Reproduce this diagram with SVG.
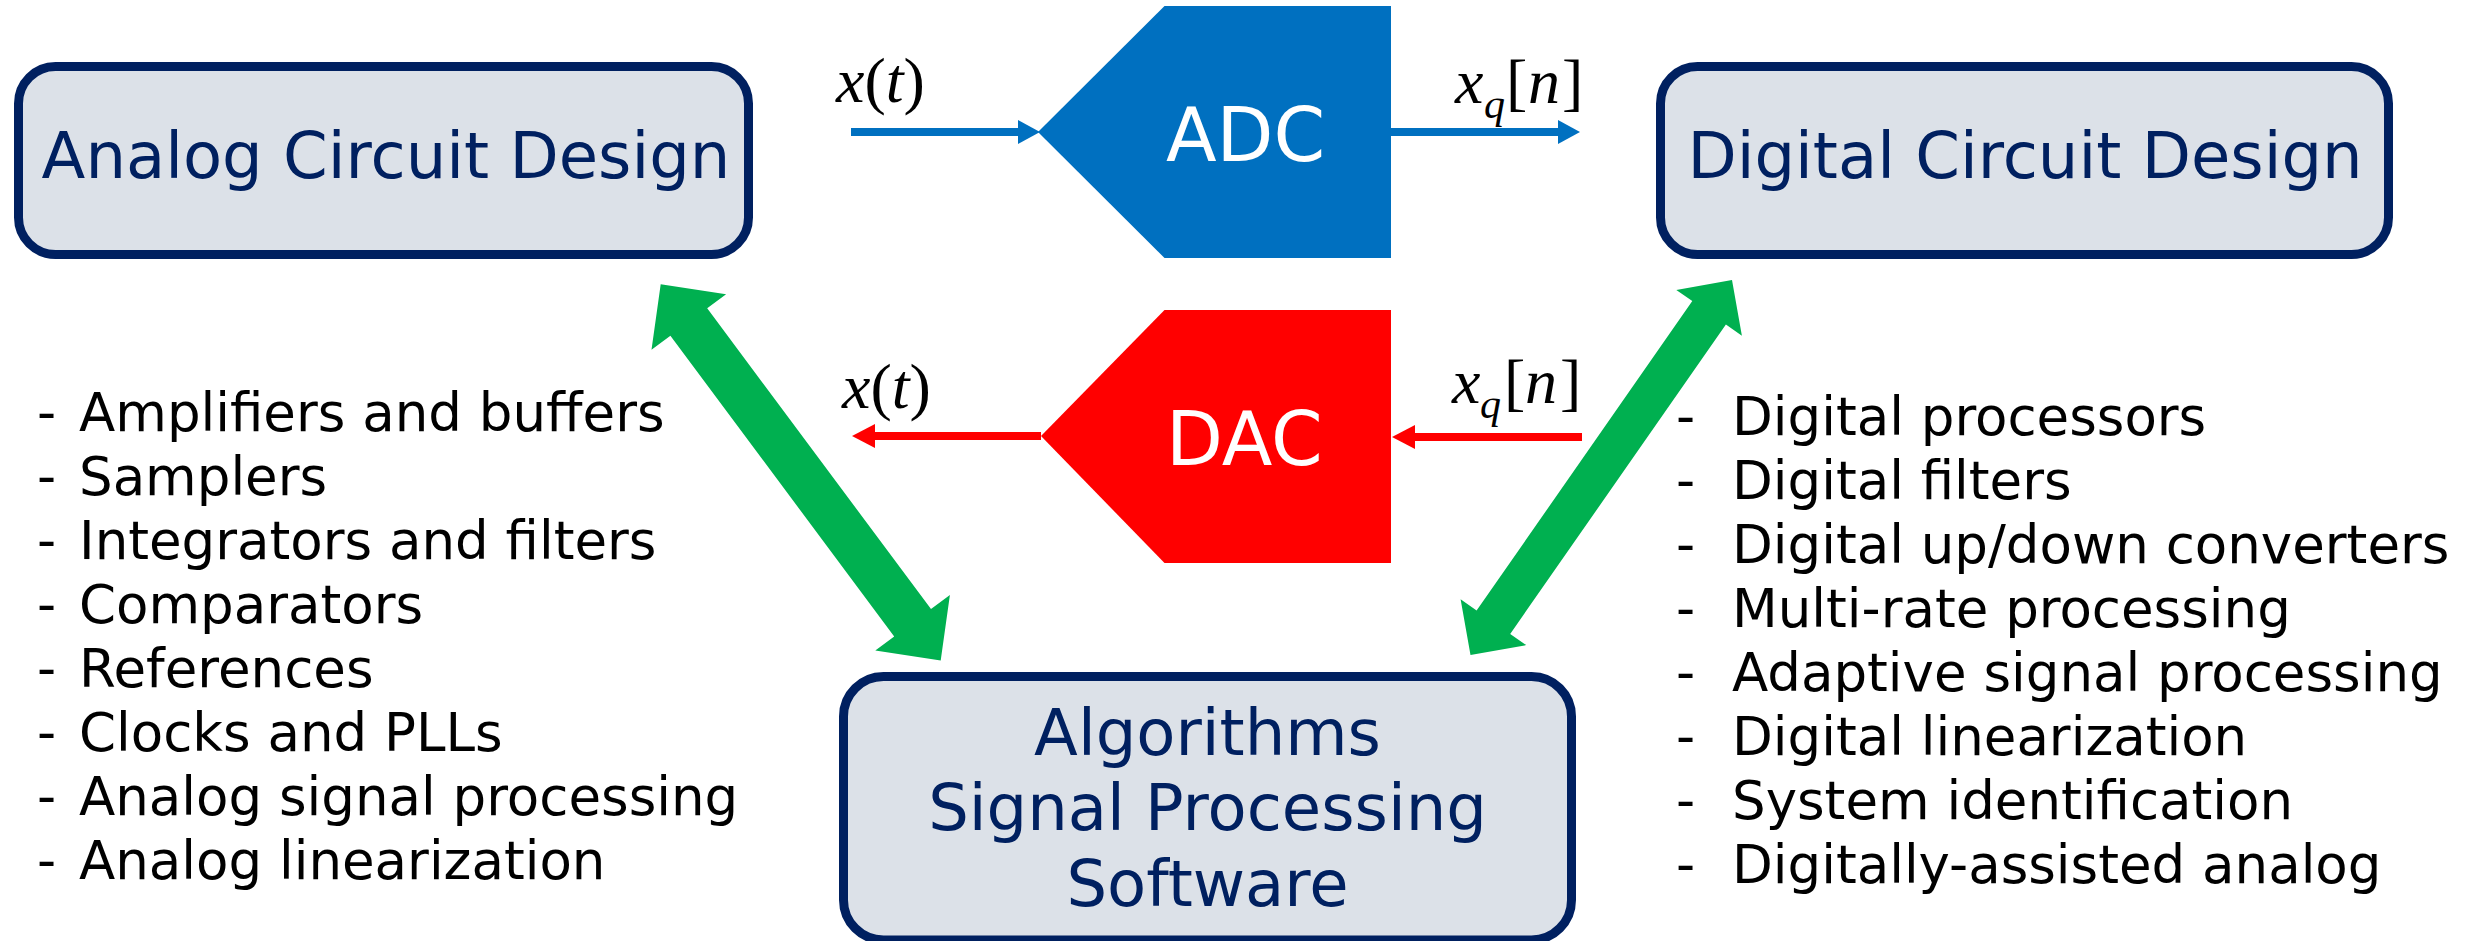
<svg xmlns="http://www.w3.org/2000/svg" width="2476" height="941" viewBox="0 0 2476 941">
  <style>
    .box { fill: #DCE1E8; stroke: #002060; stroke-width: 9; }
    .title { font-family: "DejaVu Sans", Verdana, sans-serif; font-size: 64px; fill: #002060; text-anchor: middle; }
    .conv { font-family: "DejaVu Sans", Verdana, sans-serif; font-size: 74px; fill: #FFFFFF; }
    .item { font-family: "DejaVu Sans", Verdana, sans-serif; font-size: 53px; fill: #000000; }
    .math { font-family: "Liberation Serif", "Times New Roman", serif; font-size: 64px; fill: #000000; }
    .it { font-style: italic; }
    .sub { font-size: 42px; font-style: italic; }
    .sig-blue { stroke: #0070C0; stroke-width: 8; fill: none; }
    .sig-red { stroke: #FF0000; stroke-width: 8; fill: none; }
    .link { fill: #00B050; }
  </style>
  <defs>
    <marker id="head-blue" markerUnits="userSpaceOnUse" markerWidth="22" markerHeight="24" viewBox="0 0 22 24" refX="0" refY="12" orient="auto">
      <path d="M0,0 L22,12 L0,24 Z" fill="#0070C0"/>
    </marker>
    <marker id="head-red" markerUnits="userSpaceOnUse" markerWidth="23" markerHeight="24" viewBox="0 0 23 24" refX="0" refY="12" orient="auto">
      <path d="M0,0 L23,12 L0,24 Z" fill="#FF0000"/>
    </marker>
  </defs>

  <rect width="2476" height="941" fill="#FFFFFF"/>

  <!-- Design domains -->
  <g id="analog-design">
    <rect class="box" x="18.5" y="66.5" width="730" height="188" rx="37" ry="37"/>
    <text class="title" x="386" y="178">Analog Circuit Design</text>
  </g>

  <g id="digital-design">
    <rect class="box" x="1660.5" y="66.5" width="728" height="188" rx="37" ry="37"/>
    <text class="title" x="2025" y="178">Digital Circuit Design</text>
  </g>

  <g id="algorithms">
    <rect class="box" x="843.5" y="676.5" width="728" height="263.5" rx="40" ry="40"/>
    <text class="title" x="1207.5" y="755">Algorithms</text>
    <text class="title" x="1207.5" y="830">Signal Processing</text>
    <text class="title" x="1207.5" y="906">Software</text>
  </g>

  <!-- Converters -->
  <g id="adc">
    <polygon points="1038,132 1164.5,6 1391,6 1391,258 1164.5,258" fill="#0070C0"/>
    <text class="conv" x="1166" y="161">ADC</text>
  </g>

  <g id="dac">
    <polygon points="1041,436 1164.5,310 1391,310 1391,563 1164.5,563" fill="#FF0000"/>
    <text class="conv" x="1166" y="465">DAC</text>
  </g>

  <!-- Signal labels -->
  <g id="signal-labels">
    <text class="math" x="836" y="102"><tspan class="it">x</tspan>(<tspan class="it">t</tspan>)</text>
    <text class="math" y="103"><tspan class="it" x="1455">x</tspan><tspan class="sub" x="1484" y="118">q</tspan><tspan x="1506" y="103">[</tspan><tspan class="it" x="1528">n</tspan><tspan x="1562">]</tspan></text>
    <text class="math" x="842" y="408"><tspan class="it">x</tspan>(<tspan class="it">t</tspan>)</text>
    <text class="math" y="403"><tspan class="it" x="1452">x</tspan><tspan class="sub" x="1480" y="418">q</tspan><tspan x="1504" y="403">[</tspan><tspan class="it" x="1525">n</tspan><tspan x="1560">]</tspan></text>
  </g>

  <!-- Connectors -->
  <g id="connectors">
    <line class="sig-blue" x1="851" y1="132" x2="1018" y2="132" marker-end="url(#head-blue)"/>
    <line class="sig-blue" x1="1391" y1="132" x2="1558" y2="132" marker-end="url(#head-blue)"/>
    <line class="sig-red" x1="1582" y1="437" x2="1415" y2="437" marker-end="url(#head-red)"/>
    <line class="sig-red" x1="1041" y1="436" x2="875" y2="436" marker-end="url(#head-red)"/>
    <!-- two-way links between the design domains and the algorithms -->
    <polygon class="link" points="660.7,284.3 726.1,294.2 707.2,308.3 931,609.1 949.9,595 940.7,660.5 875.3,650.6 894.2,636.5 670.4,335.7 651.5,349.8"/>
    <polygon class="link" points="1732,280 1741.9,335.7 1725.9,324.5 1510.2,633.9 1526.2,645.1 1470.5,655 1460.6,599.3 1476.6,610.5 1692.3,301.1 1676.3,289.9"/>
  </g>

  <!-- Analog topics -->
  <g id="analog-topics">
    <text class="item" y="431"><tspan x="37">-</tspan><tspan x="79">Amplifiers and buffers</tspan></text>
    <text class="item" y="495"><tspan x="37">-</tspan><tspan x="79">Samplers</tspan></text>
    <text class="item" y="559"><tspan x="37">-</tspan><tspan x="79">Integrators and filters</tspan></text>
    <text class="item" y="623"><tspan x="37">-</tspan><tspan x="79">Comparators</tspan></text>
    <text class="item" y="687"><tspan x="37">-</tspan><tspan x="79">References</tspan></text>
    <text class="item" y="751"><tspan x="37">-</tspan><tspan x="79">Clocks and PLLs</tspan></text>
    <text class="item" y="815"><tspan x="37">-</tspan><tspan x="79">Analog signal processing</tspan></text>
    <text class="item" y="879"><tspan x="37">-</tspan><tspan x="79">Analog linearization</tspan></text>
  </g>

  <!-- Digital topics -->
  <g id="digital-topics">
    <text class="item" y="435"><tspan x="1676">-</tspan><tspan x="1732">Digital processors</tspan></text>
    <text class="item" y="499"><tspan x="1676">-</tspan><tspan x="1732">Digital filters</tspan></text>
    <text class="item" y="563"><tspan x="1676">-</tspan><tspan x="1732">Digital up/down converters</tspan></text>
    <text class="item" y="627"><tspan x="1676">-</tspan><tspan x="1732">Multi-rate processing</tspan></text>
    <text class="item" y="691"><tspan x="1676">-</tspan><tspan x="1732">Adaptive signal processing</tspan></text>
    <text class="item" y="755"><tspan x="1676">-</tspan><tspan x="1732">Digital linearization</tspan></text>
    <text class="item" y="819"><tspan x="1676">-</tspan><tspan x="1732">System identification</tspan></text>
    <text class="item" y="883"><tspan x="1676">-</tspan><tspan x="1732">Digitally-assisted analog</tspan></text>
  </g>
</svg>
